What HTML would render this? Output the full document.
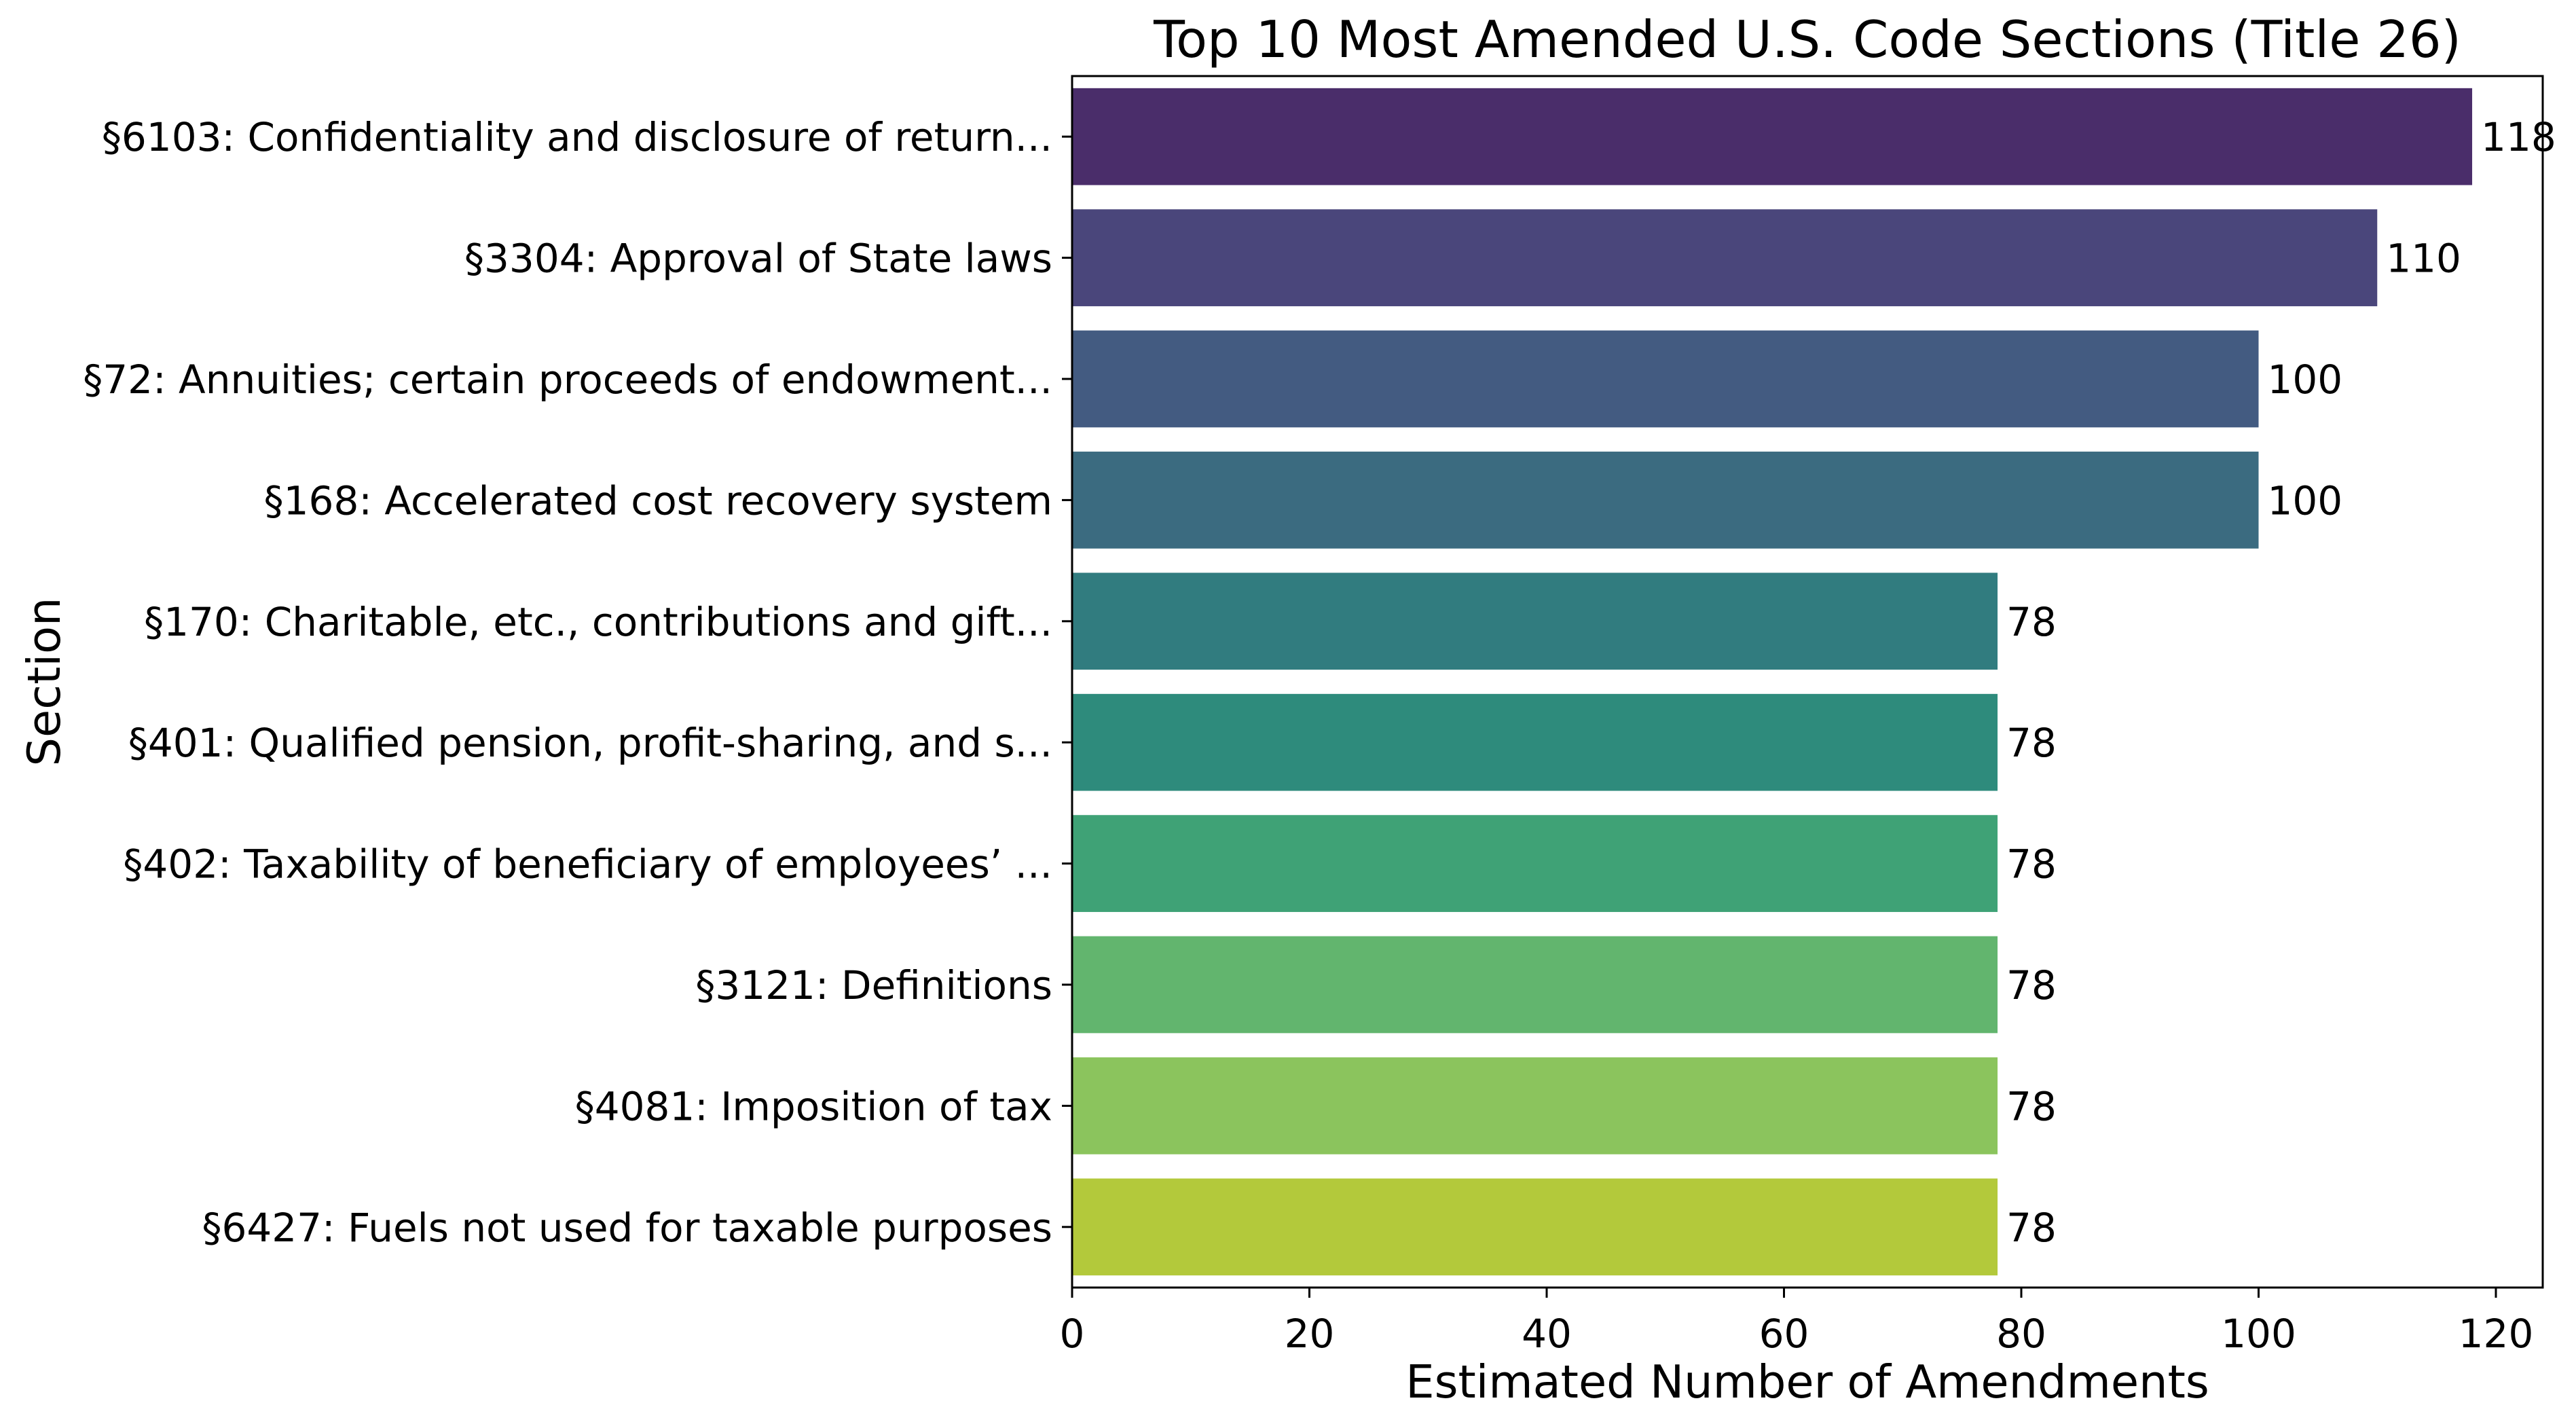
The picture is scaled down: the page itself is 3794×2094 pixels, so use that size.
<!DOCTYPE html>
<html><head><meta charset="utf-8"><style>
html,body{margin:0;padding:0;background:#fff}
svg{display:block;font-family:"DejaVu Sans","Liberation Sans",sans-serif}
</style></head><body>
<svg id="chart" width="3794" height="2094" viewBox="0 0 3794 2094" xmlns="http://www.w3.org/2000/svg">
<rect width="3794" height="2094" fill="#fff"/>
<text x="2662" y="84" font-size="75" text-anchor="middle">Top 10 Most Amended U.S. Code Sections (Title 26)</text>
<g id="bars"></g>
<g id="yticks"></g>
<g id="xticks"></g>
<rect x="1579" y="112" width="2166" height="1784" fill="none" stroke="#000" stroke-width="3"/>
<text x="2662" y="2058" font-size="67" text-anchor="middle">Estimated Number of Amendments</text>
<text transform="translate(88,1004) rotate(-90)" font-size="67" text-anchor="middle">Section</text>
</svg>
<script>
const categories = ["§6103: Confidentiality and disclosure of return...","§3304: Approval of State laws","§72: Annuities; certain proceeds of endowment...","§168: Accelerated cost recovery system","§170: Charitable, etc., contributions and gift...","§401: Qualified pension, profit-sharing, and s...","§402: Taxability of beneficiary of employees’ ...","§3121: Definitions","§4081: Imposition of tax","§6427: Fuels not used for taxable purposes"];
const values = [118,110,100,100,78,78,78,78,78,78];
const colors = ["#4a2d6a","#4a467b","#435b81","#3b6b80","#317c7f","#2e8b7c","#3fa276","#62b56e","#8bc45d","#b3c93b"];
const xTicks = [0,20,40,60,80,100,120];
const NS="http://www.w3.org/2000/svg";
const L=1579,R=3745,T=112,B=1896,x0=1579,pxPer=(3676-1579)/120;
const X=v=>x0+v*pxPer;
const band=(B-T)/categories.length;
const Y=i=>T+band*i;
function mk(tag,attrs,parent){const e=document.createElementNS(NS,tag);for(const k in attrs)e.setAttribute(k,attrs[k]);parent.appendChild(e);return e;}
const gb=document.getElementById('bars'),gy=document.getElementById('yticks'),gx=document.getElementById('xticks');
categories.forEach((c,i)=>{
  const y=Y(i)+band*0.1,h=band*0.8;
  const r=mk('rect',{x:X(0),y:y,width:X(values[i])-X(0),height:h,fill:colors[i]},gb);
  
  
  const v=mk('text',{x:X(values[i])+13,y:Y(i)+band/2+21,'font-size':58},gb);
  v.textContent=values[i];
  
  
  const cy=Y(i)+band/2;
  const tk=mk('line',{x1:L-15,x2:L,y1:cy,y2:cy,stroke:'#000','stroke-width':3},gy);
  
  
  const t=mk('text',{x:L-29,y:cy+21,'font-size':58,'text-anchor':'end'},gy);
  t.textContent=c;
  
  
});
xTicks.forEach(v=>{
  const tk=mk('line',{x1:X(v),x2:X(v),y1:B,y2:B+15,stroke:'#000','stroke-width':3},gx);
  
  
  const t=mk('text',{x:X(v),y:B+88,'font-size':58,'text-anchor':'middle'},gx);
  t.textContent=v;
  
  
});
</script>
</body></html>
